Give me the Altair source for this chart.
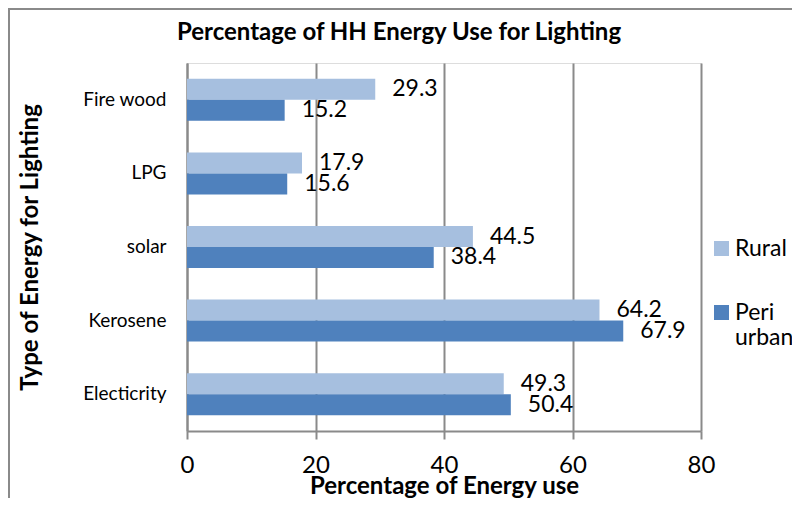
import altair as alt
import pandas as pd

# ---- data ----
categories = ["Fire wood", "LPG", "solar", "Kerosene", "Electicrity"]
series = ["Rural", "Peri urban"]
rural = [29.3, 17.9, 44.5, 64.2, 49.3]
peri_urban = [15.2, 15.6, 38.4, 67.9, 50.4]
x_ticks = [0, 20, 40, 60, 80]
chart_title = "Percentage of HH Energy Use for Lighting"

rows = []
for c, r, p in zip(categories, rural, peri_urban):
    rows.append({"energy": c, "series": "Rural", "value": r})
    rows.append({"energy": c, "series": "Peri urban", "value": p})
df = pd.DataFrame(rows)

W, H = 514, 368
FONT = "Lato"
GRAY = "#8a8a8a"
colors = ["#a6bfdf", "#4f81bd"]

x_enc = alt.X(
    "value:Q",
    scale=alt.Scale(domain=[0, 80], nice=False),
    axis=alt.Axis(
        values=x_ticks,
        title="Percentage of Energy use",
        titleFont=FONT, titleFontSize=24, titleFontWeight="bold", titleColor="black",
        titleY=43,
        labelFont=FONT, labelFontSize=24, labelColor="black", labelPadding=14,
        labelFlush=False,
        tickSize=8, tickColor=GRAY, tickWidth=2,
        domainColor=GRAY, domainWidth=2,
        grid=True, gridColor=GRAY, gridWidth=2,
    ),
)
y_enc = alt.Y(
    "energy:N",
    sort=categories,
    scale=alt.Scale(paddingInner=0.43, paddingOuter=0.215),
    axis=alt.Axis(
        title="Type of Energy for Lighting",
        titleFont=FONT, titleFontSize=24, titleFontWeight="bold", titleColor="black",
        titleX=-145,
        labelFont=FONT, labelFontSize=19, labelColor="black", labelPadding=21,
        ticks=False, domainColor=GRAY, domainWidth=2, grid=False,
    ),
)
yoff = alt.YOffset("series:N", sort=series, scale=alt.Scale(domain=series, paddingInner=0, paddingOuter=0))

bars = alt.Chart(df).mark_bar(size=21).encode(
    x=x_enc,
    y=y_enc,
    yOffset=yoff,
    color=alt.Color(
        "series:N",
        sort=series,
        scale=alt.Scale(domain=series, range=colors),
        legend=alt.Legend(
            title=None, orient="none", legendX=523, legendY=174,
            symbolType="square", symbolSize=225, symbolStrokeWidth=0,
            labelFont=FONT, labelFontSize=23, labelColor="black",
            labelOffset=2, labelLimit=200, rowPadding=40,
            labelExpr="datum.label == 'Peri urban' ? ['Peri', 'urban'] : datum.label",
        ),
    ),
)

labels = alt.Chart(df).mark_text(
    align="left", baseline="middle", dx=17, font=FONT, fontSize=23, color="black"
).encode(
    x="value:Q",
    y=alt.Y("energy:N", sort=categories),
    yOffset=alt.YOffset("series:N", sort=series),
    text=alt.Text("value:Q", format=".1f"),
)

frame_df = pd.DataFrame({"k": [0]})
left_border = alt.Chart(frame_df).mark_rule(color=GRAY, strokeWidth=2).encode(
    x=alt.value(-178), y=alt.value(-54), y2=alt.value(H + 100)
)
top_border = alt.Chart(frame_df).mark_rule(color=GRAY, strokeWidth=2).encode(
    x=alt.value(-179), x2=alt.value(W + 120), y=alt.value(-54)
)
title_text = alt.Chart(frame_df).mark_text(
    align="center", baseline="middle", font=FONT, fontSize=24, fontWeight="bold", color="black"
).encode(
    x=alt.value(W / 2 - 45), y=alt.value(-30), text=alt.value(chart_title)
)

chart = alt.layer(bars, labels, left_border, top_border, title_text).properties(
    width=W,
    height=H,
    autosize=alt.AutoSizeParams(type="none"),
    padding={"left": 179, "top": 55, "right": 91, "bottom": 67},
).configure_view(stroke=None).configure(background="white")

chart.save("out.html", embed_options={"renderer": "svg", "actions": False})
